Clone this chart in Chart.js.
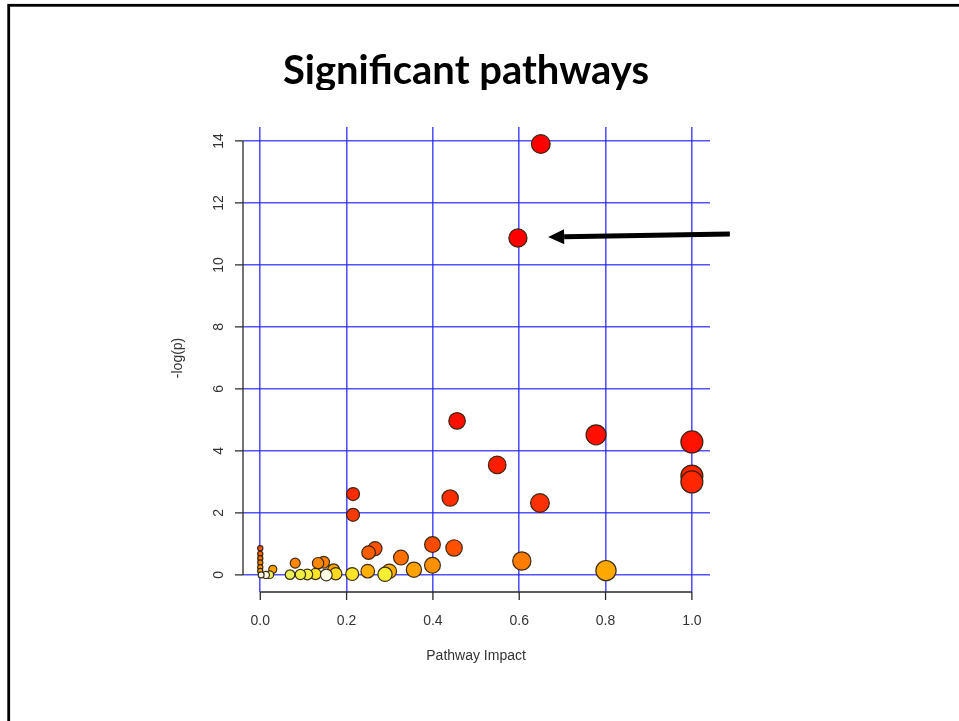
<!DOCTYPE html>
<html><head><meta charset="utf-8">
<script src="https://cdn.jsdelivr.net/npm/chart.js@4.4.1/dist/chart.umd.min.js"></script>
<style>html,body{margin:0;padding:0;background:#fff;overflow:hidden}</style>
</head><body>
<canvas id="c" width="959" height="721"></canvas>
<script>
// ---- data ----
const pathwayImpact = [0.650,0.597,0.456,0.778,1.000,0.549,1.000,1.000,0.215,0.440,0.648,0.215,0.399,0.449,0.266,0.000,0.251,0.000,0.326,0.000,0.606,0.147,0.000,0.081,0.134,0.399,0.000,0.029,0.356,0.170,0.801,0.000,0.249,0.299,0.175,0.213,0.128,0.289,0.109,0.093,0.069,0.022,0.013,0.002,0.153];
const negLogP      = [13.90,10.87,4.97,4.52,4.29,3.55,3.19,3.00,2.61,2.48,2.32,1.94,0.98,0.87,0.85,0.86,0.72,0.68,0.56,0.54,0.45,0.41,0.40,0.38,0.38,0.31,0.25,0.18,0.17,0.16,0.14,0.13,0.12,0.12,0.04,0.03,0.03,0.02,0.015,0.015,0.01,0.01,0.0,0.0,0.0];
const xTickValues = [0, 0.2, 0.4, 0.6, 0.8, 1.0];
const xTickLabels = ['0.0','0.2','0.4','0.6','0.8','1.0'];
const yTickValues = [0, 2, 4, 6, 8, 10, 12, 14];
const yTickLabels = ['0','2','4','6','8','10','12','14'];
const titleText = 'Significant pathways';
const xAxisTitle = 'Pathway Impact';
const yAxisTitle = '-log(p)';
const arrowTip = {x: 0.667, y: 10.9};
const arrowTail = {x: 1.088, y: 11.0};

// ---- styles ----
const colorStops = [
  [0, [255,251,230]], [0.01, [234,240,85]], [0.02, [246,238,48]], [0.035, [255,221,32]],
  [0.08, [255,192,16]], [0.13, [255,170,0]], [0.2, [255,156,0]], [0.32, [255,144,0]],
  [0.42, [255,128,0]], [0.6, [255,106,0]], [0.8, [255,85,0]], [1.0, [255,74,0]],
  [2.0, [245,58,8]], [2.6, [255,42,0]], [3.5, [255,32,0]], [4.5, [255,16,0]], [10, [255,0,0]]
];
function heatColor(v){
  if (v <= colorStops[0][0]) return 'rgb(' + colorStops[0][1].join(',') + ')';
  for (let i = 1; i < colorStops.length; i++) {
    const [a, ca] = colorStops[i-1], [b, cb] = colorStops[i];
    if (v <= b) {
      const t = (v - a) / (b - a);
      const c = ca.map((q, k) => Math.round(q + (cb[k] - q) * t));
      return 'rgb(' + c.join(',') + ')';
    }
  }
  return 'rgb(255,0,0)';
}
function bubbleRadius(impact){ return 2.6 + 8.4 * Math.sqrt(Math.max(0, impact)); }
const points = pathwayImpact.map((x, i) => ({x: x, y: negLogP[i]}));
const axisFont = '14px "Liberation Sans", Arial, sans-serif';

const decor = {
  id: 'decor',
  beforeDraw(chart) {
    const ctx = chart.ctx;
    ctx.save();
    ctx.strokeStyle = '#000';
    ctx.lineWidth = 2.8;
    ctx.strokeRect(8.7, 5.3, 980, 740);
    // slide title (descenders cut off as in the reference)
    ctx.beginPath(); ctx.rect(0, 0, 959, 90); ctx.clip();
    ctx.fillStyle = '#000';
    ctx.font = 'bold 40px Lato, "Liberation Sans", sans-serif';
    ctx.textAlign = 'center'; ctx.textBaseline = 'alphabetic';
    ctx.fillText(titleText, 466, 84);
    ctx.restore();
  },
  afterDraw(chart) {
    const ctx = chart.ctx, xs = chart.scales.x, ys = chart.scales.y, area = chart.chartArea;
    ctx.save();
    ctx.strokeStyle = '#2a2a2a';
    ctx.lineWidth = 1.3;
    ctx.fillStyle = '#333';
    ctx.font = axisFont;
    // x axis
    const xb = area.bottom;
    ctx.beginPath();
    ctx.moveTo(xs.getPixelForValue(xTickValues[0]), xb);
    ctx.lineTo(xs.getPixelForValue(xTickValues[xTickValues.length-1]), xb);
    xTickValues.forEach(v => { const p = xs.getPixelForValue(v); ctx.moveTo(p, xb); ctx.lineTo(p, xb + 8); });
    ctx.stroke();
    ctx.textAlign = 'center'; ctx.textBaseline = 'middle';
    xTickValues.forEach((v, i) => ctx.fillText(xTickLabels[i], xs.getPixelForValue(v), xb + 29));
    const xMid = (xs.getPixelForValue(xTickValues[0]) + xs.getPixelForValue(xTickValues[xTickValues.length-1])) / 2;
    ctx.fillText(xAxisTitle, xMid, xb + 64);
    // y axis
    const yl = area.left;
    ctx.beginPath();
    ctx.moveTo(yl, ys.getPixelForValue(yTickValues[0]));
    ctx.lineTo(yl, ys.getPixelForValue(yTickValues[yTickValues.length-1]));
    yTickValues.forEach(v => { const p = ys.getPixelForValue(v); ctx.moveTo(yl, p); ctx.lineTo(yl - 8, p); });
    ctx.stroke();
    yTickValues.forEach((v, i) => {
      ctx.save(); ctx.translate(yl - 24, ys.getPixelForValue(v)); ctx.rotate(-Math.PI/2);
      ctx.fillText(yTickLabels[i], 0, 0); ctx.restore();
    });
    const yMid = (ys.getPixelForValue(yTickValues[0]) + ys.getPixelForValue(yTickValues[yTickValues.length-1])) / 2;
    ctx.save(); ctx.translate(yl - 65, yMid); ctx.rotate(-Math.PI/2); ctx.fillText(yAxisTitle, 0, 0); ctx.restore();
    // arrow
    const tx = xs.getPixelForValue(arrowTip.x), ty = ys.getPixelForValue(arrowTip.y);
    const sx = xs.getPixelForValue(arrowTail.x), sy = ys.getPixelForValue(arrowTail.y);
    const ang = Math.atan2(ty - sy, tx - sx), headLen = 16, headHalf = 7.5;
    const bx = tx - Math.cos(ang) * headLen, by = ty - Math.sin(ang) * headLen;
    ctx.strokeStyle = '#000'; ctx.fillStyle = '#000'; ctx.lineWidth = 5; ctx.lineCap = 'butt';
    ctx.beginPath(); ctx.moveTo(sx, sy); ctx.lineTo(bx, by); ctx.stroke();
    ctx.beginPath();
    ctx.moveTo(tx, ty);
    ctx.lineTo(bx + Math.sin(ang) * headHalf, by - Math.cos(ang) * headHalf);
    ctx.lineTo(bx - Math.sin(ang) * headHalf, by + Math.cos(ang) * headHalf);
    ctx.closePath(); ctx.fill();
    ctx.restore();
  }
};

const gridStyle = {color: 'rgba(35,35,255,0.78)', lineWidth: 1.6, drawTicks: false};
new Chart(document.getElementById('c'), {
  type: 'scatter',
  data: {datasets: [{
    data: points,
    pointRadius: c => bubbleRadius(c.raw.x),
    pointHoverRadius: c => bubbleRadius(c.raw.x),
    backgroundColor: c => heatColor(c.raw.y),
    borderColor: 'rgba(45,30,10,0.92)',
    borderWidth: 1.2,
    clip: false
  }]},
  options: {
    responsive: false, animation: false, devicePixelRatio: 1,
    layout: {padding: {left: 243, right: 249, top: 127, bottom: 129}},
    plugins: {legend: {display: false}, tooltip: {enabled: false}, title: {display: false}},
    scales: {
      x: {type: 'linear', min: -0.04, max: 1.042,
        afterBuildTicks: s => { s.ticks = xTickValues.map(v => ({value: v})); },
        ticks: {display: false}, grid: gridStyle, border: {display: false}},
      y: {type: 'linear', min: -0.55, max: 14.45,
        afterBuildTicks: s => { s.ticks = yTickValues.map(v => ({value: v})); },
        ticks: {display: false}, grid: gridStyle, border: {display: false}}
    }
  },
  plugins: [decor]
});
</script>
</body></html>
